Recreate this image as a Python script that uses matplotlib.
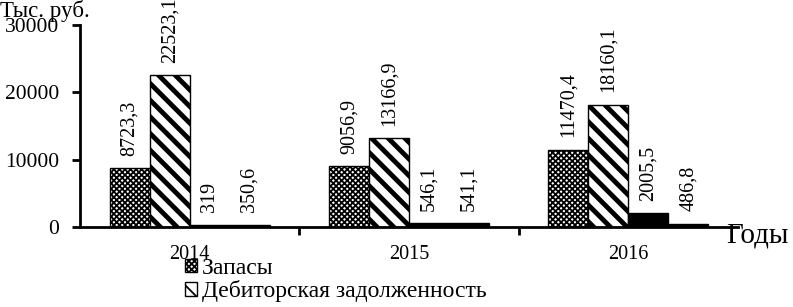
import matplotlib
matplotlib.use("Agg")
import matplotlib.pyplot as plt
import numpy as np

years = ["2014", "2015", "2016"]
series_names = ["Запасы", "Дебиторская задолженность", "Денежные средства", "Прочие оборотные активы"]
zapasy = [8723.3, 9056.9, 11470.4]
debitor = [22523.1, 13166.9, 18160.1]
series3 = [319, 546.1, 2005.5]
series4 = [350.6, 541.1, 486.8]
value_labels = [
    ["8723,3", "9056,9", "11470,4"],
    ["22523,1", "13166,9", "18160,1"],
    ["319", "546,1", "2005,5"],
    ["350,6", "541,1", "486,8"],
]
yticks = [0, 10000, 20000, 30000]

plt.rcParams['font.family'] = ['Liberation Serif', 'DejaVu Serif']
plt.rcParams['hatch.linewidth'] = 1.3

fig = plt.figure(figsize=(7.93, 3.07), dpi=100)
ax = fig.add_axes([80/793, 1-227/307, (738-80)/793, (227-25)/307])

x = np.arange(len(years))
w = 0.182
data = [zapasy, debitor, series3, series4]
styles = [
    dict(facecolor='white', hatch='xxxxxx', edgecolor='black'),
    dict(facecolor='white', hatch='\\\\', edgecolor='black'),
    dict(facecolor='black', edgecolor='black'),
    dict(facecolor='black', edgecolor='black'),
]
containers = []
for i, (vals, st) in enumerate(zip(data, styles)):
    bc = ax.bar(x + (i - 1.5) * w, vals, w, linewidth=1.0, **st)
    containers.append(bc)
    for rect, lab in zip(bc, value_labels[i]):
        ax.annotate(lab, (rect.get_x() + rect.get_width()/2, rect.get_height()),
                    xytext=(0, 9), textcoords='offset points', rotation=90,
                    ha='center', va='bottom', fontsize=14.5, annotation_clip=False)

for r in containers[1]:
    try:
        r.set_hatch_linewidth(3.5)
    except Exception:
        pass

ax.set_xlim(-0.5, 2.5)
ax.set_ylim(0, 30000)
ax.set_yticks(yticks)
ax.set_yticklabels([str(v) for v in yticks], fontsize=15.5)
ax.set_xticks([0.5, 1.5], minor=False)
ax.set_xticklabels([])
ax.set_xticks(x, minor=True)
ax.set_xticklabels(years, minor=True, fontsize=14.5)
ax.tick_params(axis='x', which='minor', length=0, pad=13)
ax.tick_params(axis='x', which='major', length=6, width=2, direction='out')
ax.tick_params(axis='y', length=6, width=2, direction='out', pad=9)
for s in ['top', 'right']:
    ax.spines[s].set_visible(False)
ax.spines['left'].set_linewidth(2)
ax.spines['bottom'].set_linewidth(2)

fig.text(0.0, 1-11/307, "Тыс. руб.", fontsize=16.5, ha='left', va='center')
fig.text(726/793, 1-236/307, "Годы", fontsize=21, ha='left', va='center')

leg = fig.legend(containers[:2], series_names[:2], loc='upper left',
                 bbox_to_anchor=(185/793, 1-258/307), frameon=False,
                 fontsize=17, handlelength=0.5, handleheight=0.5,
                 handletextpad=0.2, labelspacing=0.05, borderpad=0, borderaxespad=0)

fig.savefig("out.png", dpi=100)
